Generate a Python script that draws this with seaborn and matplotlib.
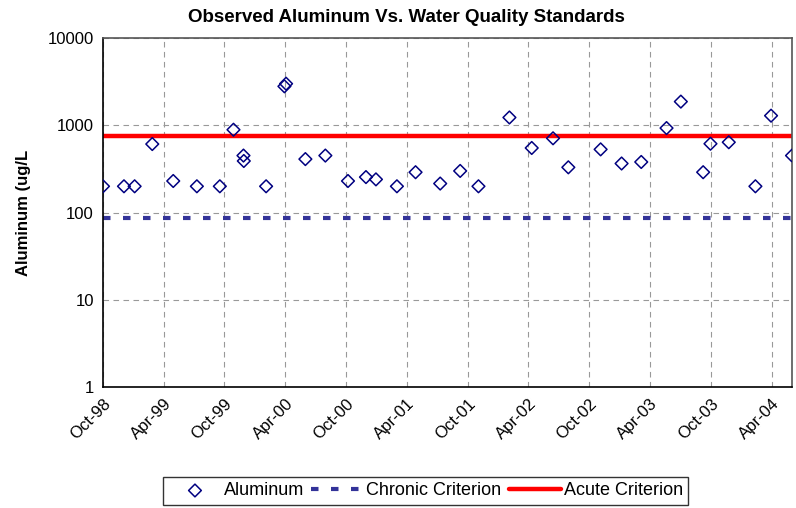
import matplotlib
matplotlib.use("Agg")
import matplotlib.pyplot as plt
import matplotlib.dates as mdates
from matplotlib.ticker import LogLocator, FixedLocator, NullFormatter
import numpy as np
import pandas as pd
import seaborn as sns

sns.set_style("white")
plt.rcParams['font.family'] = ['Liberation Sans', 'DejaVu Sans']
plt.rcParams['text.color'] = 'black'
plt.rcParams['axes.labelcolor'] = 'black'
plt.rcParams['xtick.color'] = 'black'
plt.rcParams['ytick.color'] = 'black'

# sample dates and observed aluminum (ug/L)
dates = ["1998-10-01", "1998-12-03", "1999-01-04", "1999-02-26", "1999-04-30",
         "1999-07-10", "1999-09-17", "1999-10-28", "1999-11-27", "1999-11-28",
         "2000-02-03", "2000-03-29", "2000-04-03", "2000-05-31", "2000-07-30",
         "2000-10-06", "2000-11-29", "2000-12-29", "2001-03-02", "2001-04-27",
         "2001-07-10", "2001-09-08", "2001-11-02", "2002-02-03", "2002-04-11",
         "2002-06-14", "2002-07-30", "2002-11-04", "2003-01-06", "2003-03-06",
         "2003-05-21", "2003-07-03", "2003-09-08", "2003-09-30", "2003-11-24",
         "2004-02-12", "2004-03-30", "2004-06-01"]
aluminum = [200, 200, 200, 610, 230,
            200, 200, 890, 450, 390,
            200, 2800, 3000, 410, 450,
            230, 255, 240, 200, 290,
            215, 300, 200, 1230, 550,
            710, 330, 530, 365, 380,
            930, 1870, 290, 615, 640,
            200, 1290, 450]
chronic = 87
acute = 750

df = pd.DataFrame({"date": pd.to_datetime(dates), "Aluminum": aluminum})
df["Chronic Criterion"] = chronic
df["Acute Criterion"] = acute

fig = plt.figure(figsize=(7.96, 5.08), dpi=100)
ax = fig.add_axes([0.1294, 0.2382, 0.8656, 0.6868])

sns.lineplot(data=df, x="date", y="Chronic Criterion", ax=ax, color="#333399",
             lw=3, label="Chronic Criterion", zorder=2)
ax.lines[-1].set_dashes((1.8, 3.0))
sns.lineplot(data=df, x="date", y="Acute Criterion", ax=ax, color="#ff0000",
             lw=3.2, label="Acute Criterion", zorder=2)
sns.scatterplot(data=df, x="date", y="Aluminum", ax=ax, marker="D", s=42,
                facecolor="none", edgecolor="#000080", linewidth=1.1,
                label="Aluminum", zorder=3)

ax.set_yscale("log")
ax.set_ylim(1, 10000)
ax.yaxis.set_major_locator(FixedLocator([1, 10, 100, 1000, 10000]))
ax.set_yticklabels(["1", "10", "100", "1000", "10000"])
ax.yaxis.set_minor_locator(LogLocator(base=10, subs=np.arange(2, 10)))
ax.yaxis.set_minor_formatter(NullFormatter())

ax.set_xlim(pd.Timestamp("1998-10-01"), pd.Timestamp("2004-06-01"))
ax.xaxis.set_major_locator(mdates.MonthLocator(bymonth=[4, 10]))
ax.xaxis.set_minor_locator(mdates.MonthLocator())
ax.xaxis.set_major_formatter(mdates.DateFormatter("%b-%y"))

ax.grid(True, which="major", color="#999999", linestyle=(0, (5, 4)), linewidth=0.8)
ax.tick_params(axis="both", which="major", direction="inout", length=7, width=1,
               labelsize=12, color="black", labelcolor="black", pad=3)
ax.tick_params(axis="both", which="minor", direction="out", length=3.5, width=0.8,
               color="black")
for lab in ax.get_xticklabels():
    lab.set_rotation(45)
    lab.set_ha("right")
    lab.set_rotation_mode("anchor")

for side in ["left", "bottom"]:
    ax.spines[side].set_color("black")
    ax.spines[side].set_linewidth(1.2)
for side in ["top", "right"]:
    ax.spines[side].set_color("#555555")
    ax.spines[side].set_linewidth(1.2)

ax.set_xlabel("")
ax.set_ylabel("Aluminum (ug/L", fontsize=12, fontweight="bold", labelpad=12,
              color="black")
fig.text(0.511, 0.9646, "Observed Aluminum Vs. Water Quality Standards",
         fontsize=13.5, fontweight="bold", ha="center", va="center", color="black")

handles, labels = ax.get_legend_handles_labels()
order = [labels.index(n) for n in ["Aluminum", "Chronic Criterion", "Acute Criterion"]]
leg = fig.legend([handles[i] for i in order], [labels[i] for i in order],
                 loc="center", bbox_to_anchor=(0.535, 0.034), ncol=3,
                 frameon=True, fancybox=False, edgecolor="black", fontsize=13,
                 handlelength=2.9, handletextpad=0.15, columnspacing=0.4,
                 borderpad=0.3, borderaxespad=0)
leg.get_frame().set_linewidth(1.0)
for t in leg.get_texts():
    t.set_color("black")
if ax.get_legend() is not None:
    ax.get_legend().remove()

fig.savefig("out.png", dpi=100)
